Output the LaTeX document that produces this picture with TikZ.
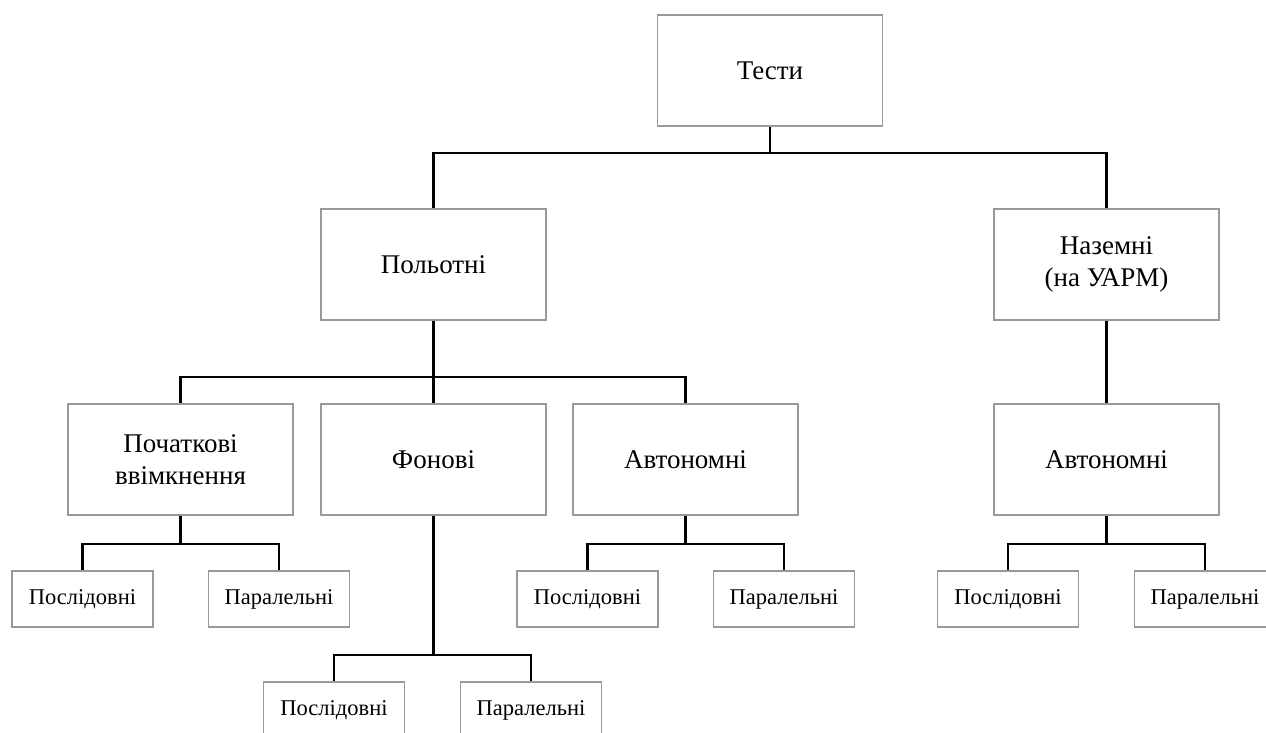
\documentclass[tikz,border=0pt]{standalone}
\usepackage{fontspec}
\setmainfont{Liberation Serif}
\begin{document}
\begin{tikzpicture}[x=1pt,y=-1pt,
  bigbox/.style={draw=black!40, line width=1.2pt, fill=white, minimum width=225pt, minimum height=111pt,
    inner sep=0pt, align=center, font=\fontsize{27}{32}\selectfont},
  smallbox/.style={draw=black!40, line width=1.2pt, fill=white, minimum width=141pt, minimum height=56pt,
    inner sep=0pt, font=\fontsize{22.5}{26}\selectfont},
  link/.style={draw=black, line width=2.2pt}]
\useasboundingbox (0,0) rectangle (1266,733);
\clip (0,0) rectangle (1266,733);

% top level
\node[bigbox] (tests) at (770,70.5) {Тести};
\node[bigbox] (flight) at (433.5,264.5) {Польотні};
\node[bigbox] (ground) at (1106.5,264.5) {Наземні\\(на УАРМ)};

% second level
\node[bigbox] (init) at (180.5,459.5) {Початкові\\ввімкнення};
\node[bigbox] (bg) at (433.5,459.5) {Фонові};
\node[bigbox] (auto) at (685.5,459.5) {Автономні};
\node[bigbox] (gauto) at (1106.5,459.5) {Автономні};

% leaves
\node[smallbox] (initS) at (82.5,599) {Послідовні};
\node[smallbox] (initP) at (279,599) {Паралельні};
\node[smallbox] (bgS) at (334,710) {Послідовні};
\node[smallbox] (bgP) at (531,710) {Паралельні};
\node[smallbox] (autoS) at (587.5,599) {Послідовні};
\node[smallbox] (autoP) at (784,599) {Паралельні};
\node[smallbox] (gautoS) at (1008,599) {Послідовні};
\node[smallbox] (gautoP) at (1205,599) {Паралельні};

% junction points of the tree
\coordinate (j0) at (770,153);
\coordinate (j1) at (433.5,377);
\coordinate (j2) at (180.5,544);
\coordinate (j3) at (433.5,655);
\coordinate (j4) at (685.5,544);
\coordinate (j5) at (1106.5,544);

\draw[link] (tests.south) -- (j0);
\draw[link] (j0) -| (flight.north);
\draw[link] (j0) -| (ground.north);

\draw[link] (flight.south) -- (j1);
\draw[link] (j1) -| (init.north);
\draw[link] (j1) -- (bg.north);
\draw[link] (j1) -| (auto.north);

\draw[link] (ground.south) -- (gauto.north);

\draw[link] (init.south) -- (j2);
\draw[link] (j2) -| (initS.north);
\draw[link] (j2) -| (initP.north);

\draw[link] (bg.south) -- (j3);
\draw[link] (j3) -| (bgS.north);
\draw[link] (j3) -| (bgP.north);

\draw[link] (auto.south) -- (j4);
\draw[link] (j4) -| (autoS.north);
\draw[link] (j4) -| (autoP.north);

\draw[link] (gauto.south) -- (j5);
\draw[link] (j5) -| (gautoS.north);
\draw[link] (j5) -| (gautoP.north);
\end{tikzpicture}
\end{document}
